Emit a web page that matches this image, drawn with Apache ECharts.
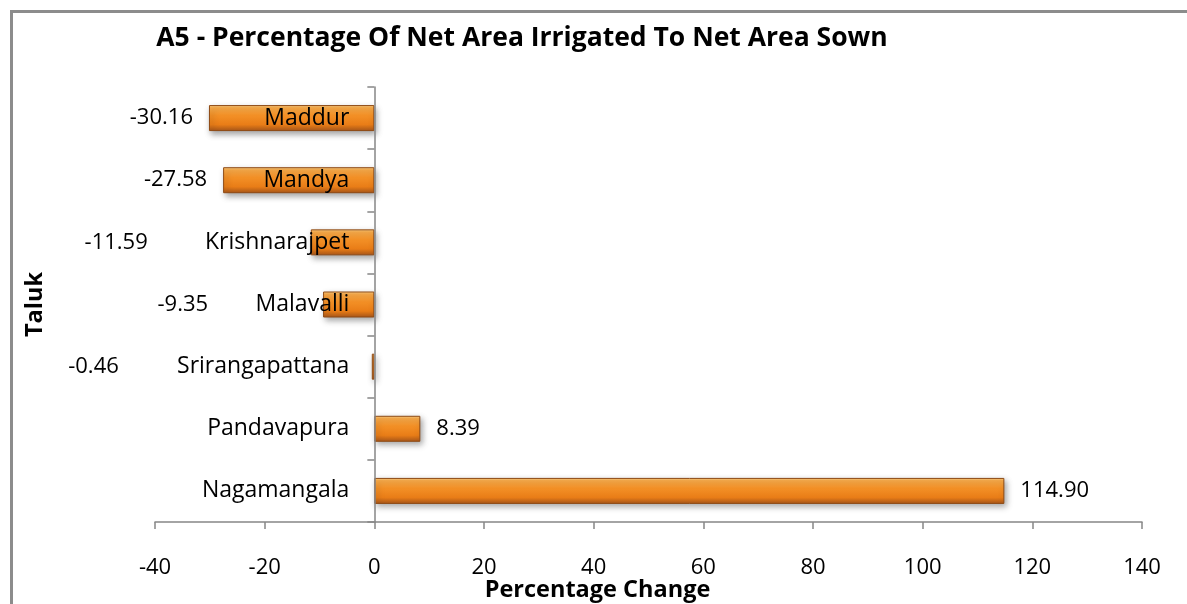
<!DOCTYPE html>
<html>
<head>
<meta charset="utf-8">
<script src="https://cdn.jsdelivr.net/npm/echarts@6/dist/echarts.min.js"></script>
<style>
html,body{margin:0;padding:0;background:#fff;}
#chart{width:1187px;height:604px;}
</style>
</head>
<body>
<div id="chart"></div>
<script>
// ---- data ----
const titleText = 'A5 - Percentage Of Net Area Irrigated To Net Area Sown';
const categories = ['Maddur', 'Mandya', 'Krishnarajpet', 'Malavalli', 'Srirangapattana', 'Pandavapura', 'Nagamangala'];
const values = [-30.16, -27.58, -11.59, -9.35, -0.46, 8.39, 114.90];
const xAxisTitle = 'Percentage Change';
const yAxisTitle = 'Taluk';
const xMin = -40, xMax = 140, xStep = 20;

// ---- layout / style (not data) ----
const FONT = "'Open Sans', sans-serif";
const W = 1187, GRID_LEFT = 155, GRID_RIGHT = 45;
const plotWidth = W - GRID_LEFT - GRID_RIGHT;
// shift the category axis so it sits at value 0
const zeroOffset = (0 - xMin) / (xMax - xMin) * plotWidth;
const labelShiftPx = { 'Krishnarajpet': -147, 'Malavalli': -99, 'Srirangapattana': -237 };

const barGradient = new echarts.graphic.LinearGradient(0, 0, 0, 1, [
  { offset: 0, color: '#fcd590' },
  { offset: 0.1, color: '#f9ab4a' },
  { offset: 0.4, color: '#f39026' },
  { offset: 0.75, color: '#e97d17' },
  { offset: 1, color: '#a8561a' }
]);

const seriesData = values.map((v, i) => {
  const shift = labelShiftPx[categories[i]] || 0;
  return {
    value: v,
    label: {
      position: v < 0 ? 'left' : 'right',
      offset: [shift, 0]
    }
  };
});

const chart = echarts.init(document.getElementById('chart'));
chart.setOption({
  animation: false,
  backgroundColor: '#ffffff',
  textStyle: { fontFamily: FONT },
  title: {
    text: titleText,
    left: 517, top: 20, textAlign: 'center',
    textStyle: { fontFamily: FONT, fontWeight: 'bold', fontSize: 26.5, color: '#000' }
  },
  graphic: [{
    type: 'rect', left: 9, top: 9, silent: true, z: -1,
    shape: { width: 1300, height: 700 },
    style: { fill: 'none', stroke: '#8c8c8c', lineWidth: 3 }
  }],
  grid: { left: GRID_LEFT, right: GRID_RIGHT, top: 87, bottom: 82, containLabel: false, outerBoundsMode: 'none' },
  xAxis: {
    type: 'value', min: xMin, max: xMax, interval: xStep,
    name: xAxisTitle, nameLocation: 'middle', nameGap: 56, nameMoveOverlap: false,
    nameTextStyle: { fontFamily: FONT, fontWeight: 'bold', fontSize: 23.5, color: '#000', padding: [0, 102, 0, 0] },
    axisLine: { show: true, onZero: false, lineStyle: { color: '#868686', width: 1.5 } },
    axisTick: { show: true, length: 7, lineStyle: { color: '#868686', width: 1.5 } },
    axisLabel: { fontFamily: FONT, fontSize: 22, color: '#000', margin: 35 },
    splitLine: { show: false }
  },
  yAxis: {
    type: 'category', data: categories, inverse: true,
    position: 'left', offset: -zeroOffset, z: 5,
    name: yAxisTitle, nameLocation: 'middle', nameGap: GRID_LEFT + zeroOffset - 47, nameRotate: 90,
    nameMoveOverlap: false,
    nameTextStyle: { fontFamily: FONT, fontWeight: 'bold', fontSize: 23.5, color: '#000' },
    axisLine: { show: true, onZero: false, lineStyle: { color: '#868686', width: 1.5 } },
    axisTick: { show: true, length: 7, lineStyle: { color: '#868686', width: 1.5 } },
    axisLabel: { fontFamily: FONT, fontSize: 23, color: '#000', margin: 25 },
    splitLine: { show: false }
  },
  series: [{
    type: 'bar',
    data: seriesData,
    barWidth: 26,
    z: 1,
    itemStyle: {
      color: barGradient,
      borderColor: '#8e4a14',
      borderWidth: 1,
      shadowColor: 'rgba(0,0,0,0.35)',
      shadowBlur: 6,
      shadowOffsetX: 2,
      shadowOffsetY: 3
    },
    label: {
      show: true,
      distance: 16,
      fontFamily: FONT,
      fontSize: 22,
      color: '#000',
      formatter: p => p.value.toFixed(2)
    }
  }]
});
</script>
</body>
</html>
